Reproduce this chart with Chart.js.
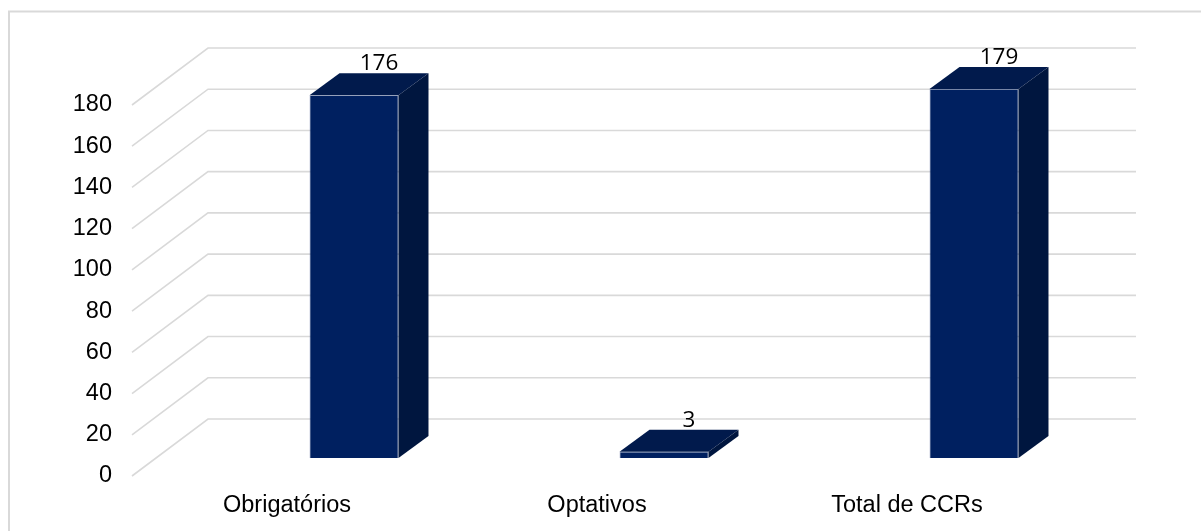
<!DOCTYPE html>
<html lang="pt-BR">
<head>
<meta charset="UTF-8">
<title>CCRs</title>
<script src="https://cdn.jsdelivr.net/npm/chart.js@4.4.1/dist/chart.umd.min.js"></script>
<style>
  html, body { margin: 0; padding: 0; background: #fff; }
  .chart-wrap { position: relative; width: 1201px; height: 531px; }
</style>
</head>
<body>
<div class="chart-wrap"><canvas id="ccr-chart"></canvas></div>
<script>
// 1. Dados do gráfico
const categorias = ['Obrigatórios', 'Optativos', 'Total de CCRs'];
const quantidades = [176, 3, 179];
const ticksY = [0, 20, 40, 60, 80, 100, 120, 140, 160, 180];

// 2. Aparência "3D" (deslocamentos oblíquos)
const PROF_PAREDE = { x: 76, y: -57 };   // plano da frente -> parede do fundo
const DESLOC_BARRA = { x: 67, y: -18 };  // onde fica a face frontal das barras
const PROF_BARRA = { x: 30, y: -22 };    // profundidade de cada barra
const COR_FRENTE = '#002060';
const COR_TOPO = '#011a4c';
const COR_LADO = '#00163f';
const COR_GRADE = '#d9d9d9';
const FONTE_EIXO = { family: '"Liberation Sans", Arial, sans-serif', size: 23.5 };

// 3. Plugin: grade em perspectiva + faces laterais/topo + rótulos
const efeito3d = {
    id: 'efeito3d',
    beforeDraw(chart) {
        // moldura (só esquerda e topo aparecem)
        const ctx = chart.ctx;
        ctx.save();
        ctx.strokeStyle = COR_GRADE;
        ctx.lineWidth = 2;
        ctx.beginPath();
        ctx.moveTo(9, 700);
        ctx.lineTo(9, 11.5);
        ctx.lineTo(1400, 11.5);
        ctx.stroke();
        ctx.restore();
    },
    beforeDatasetsDraw(chart) {
        const { ctx, chartArea } = chart;
        const escalaY = chart.scales.y;
        const fimX = chartArea.right + 74;

        ctx.save();
        ctx.strokeStyle = COR_GRADE;
        ctx.lineWidth = 1.6;
        ticksY.forEach(v => {
            const py = escalaY.getPixelForValue(v);
            ctx.beginPath();
            ctx.moveTo(chartArea.left, py);
            ctx.lineTo(chartArea.left + PROF_PAREDE.x, py + PROF_PAREDE.y);
            ctx.lineTo(fimX, py + PROF_PAREDE.y);
            ctx.stroke();
        });
        ctx.restore();

        // barras ficam no meio da profundidade
        ctx.save();
        ctx.translate(DESLOC_BARRA.x, DESLOC_BARRA.y);
    },
    afterDatasetsDraw(chart) {
        const ctx = chart.ctx;
        const dx = PROF_BARRA.x, dy = PROF_BARRA.y;

        chart.getDatasetMeta(0).data.forEach((barra, i) => {
            const { x, y, base, width } = barra.getProps(['x', 'y', 'base', 'width'], true);
            const esq = x - width / 2;
            const dir = x + width / 2;

            // topo
            ctx.fillStyle = COR_TOPO;
            ctx.beginPath();
            ctx.moveTo(esq, y);
            ctx.lineTo(esq + dx, y + dy);
            ctx.lineTo(dir + dx, y + dy);
            ctx.lineTo(dir, y);
            ctx.closePath();
            ctx.fill();

            // lateral
            ctx.fillStyle = COR_LADO;
            ctx.beginPath();
            ctx.moveTo(dir, y);
            ctx.lineTo(dir + dx, y + dy);
            ctx.lineTo(dir + dx, base + dy);
            ctx.lineTo(dir, base);
            ctx.closePath();
            ctx.fill();

            // rótulo de valor
            ctx.fillStyle = '#000';
            ctx.font = '22.5px "Open Sans", "Noto Sans", sans-serif';
            ctx.textAlign = 'center';
            ctx.textBaseline = 'alphabetic';
            ctx.fillText(String(quantidades[i]), x + dx - 5, y + dy - 3);
        });

        ctx.restore();
    }
};

// 4. Gráfico
const ctx = document.getElementById('ccr-chart').getContext('2d');

const grafico = new Chart(ctx, {
    type: 'bar',
    data: {
        labels: categorias,
        datasets: [{
            data: quantidades,
            backgroundColor: COR_FRENTE,
            borderColor: 'rgba(90, 110, 160, 0.6)',
            borderWidth: 0.8,
            barPercentage: 0.287,
            categoryPercentage: 1,
            clip: false
        }]
    },
    options: {
        responsive: true,
        maintainAspectRatio: false,
        animation: false,
        layout: {
            padding: { top: 105, right: 139, bottom: 0, left: 0 }
        },
        plugins: {
            legend: { display: false },
            tooltip: { enabled: false }
        },
        scales: {
            x: {
                grid: { display: false, drawTicks: false },
                border: { display: false },
                ticks: {
                    color: '#000',
                    font: FONTE_EIXO,
                    padding: 15,
                    maxRotation: 0
                },
                afterFit(escala) { escala.height = 55; }
            },
            y: {
                min: 0,
                max: 180,
                grid: { display: false, drawTicks: false },
                border: { display: false },
                afterBuildTicks(escala) {
                    escala.ticks = ticksY.map(v => ({ value: v }));
                },
                ticks: {
                    color: '#000',
                    font: FONTE_EIXO,
                    padding: 20
                },
                afterFit(escala) { escala.width = 132; }
            }
        }
    },
    plugins: [efeito3d]
});
</script>
</body>
</html>
